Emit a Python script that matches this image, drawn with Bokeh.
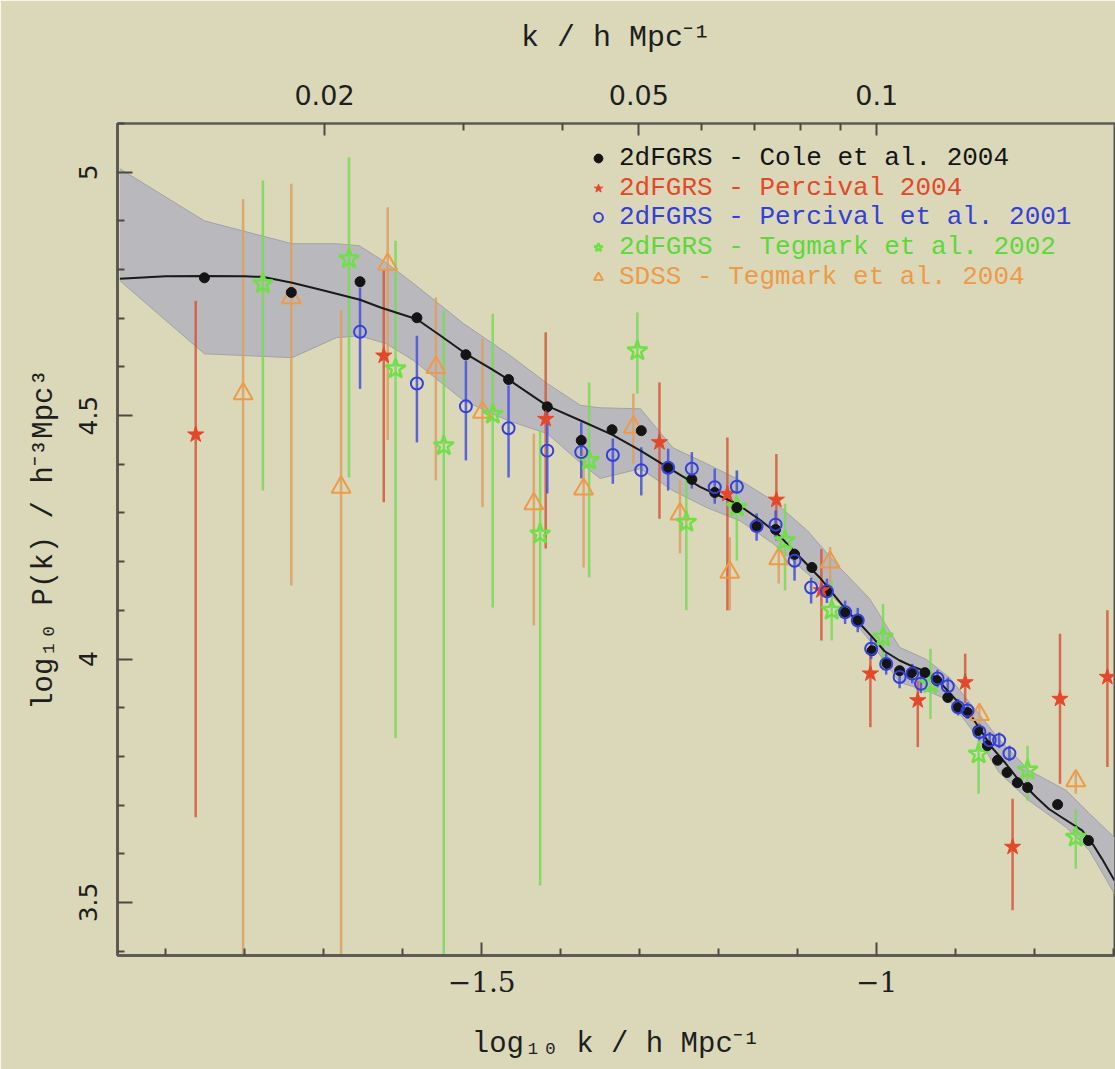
import numpy as np
from bokeh.plotting import figure
from bokeh.models import (LinearAxis, FixedTicker, Range1d, Legend, LegendItem)
from bokeh.embed import file_html
from bokeh.resources import INLINE

# ---------------- data (log10 k [h/Mpc], log10 P(k)) ----------------
# 2dFGRS - Cole et al. 2004 (black dots)
cole_lk = [-1.851, -1.741, -1.654, -1.582, -1.520, -1.466, -1.417, -1.374, -1.335, -1.298,
           -1.264, -1.234, -1.205, -1.177, -1.152, -1.128, -1.104, -1.082, -1.063, -1.040,
           -1.024, -1.006, -0.987, -0.971, -0.956, -0.939, -0.924, -0.910, -0.898, -0.885,
           -0.872, -0.860, -0.847, -0.835, -0.822, -0.809, -0.771, -0.732]
cole_p = [4.783, 4.753, 4.775, 4.701, 4.625, 4.574, 4.518, 4.449, 4.471, 4.469,
          4.393, 4.369, 4.342, 4.311, 4.272, 4.266, 4.215, 4.188, 4.139, 4.095,
          4.079, 4.017, 3.991, 3.976, 3.972, 3.972, 3.956, 3.921, 3.900, 3.890,
          3.853, 3.822, 3.792, 3.767, 3.746, 3.736, 3.701, 3.627]

# best-fit curve (black line)
curve_lk = [-1.958, -1.900, -1.851, -1.800, -1.778, -1.740, -1.700, -1.654, -1.628, -1.582,
            -1.552, -1.520, -1.489, -1.466, -1.438, -1.417, -1.375, -1.335, -1.299, -1.264,
            -1.223, -1.177, -1.148, -1.126, -1.097, -1.072, -1.038, -1.021, -1.005, -0.990,
            -0.971, -0.952, -0.937, -0.923, -0.908, -0.895, -0.879, -0.854, -0.838, -0.823,
            -0.798, -0.782, -0.765, -0.740, -0.725, -0.715, -0.699]
curve_p = [4.781, 4.786, 4.787, 4.786, 4.785, 4.773, 4.757, 4.738, 4.722, 4.698,
           4.664, 4.627, 4.597, 4.574, 4.543, 4.520, 4.490, 4.461, 4.428, 4.393,
           4.353, 4.319, 4.286, 4.258, 4.209, 4.167, 4.100, 4.072, 4.044, 4.016,
           3.997, 3.983, 3.974, 3.958, 3.931, 3.908, 3.880, 3.818, 3.788, 3.757,
           3.716, 3.692, 3.674, 3.648, 3.616, 3.590, 3.545]

# grey uncertainty band
band_lk = [-1.958, -1.851, -1.740, -1.684, -1.655, -1.621, -1.586, -1.523, -1.467, -1.417,
           -1.375, -1.350, -1.299, -1.258, -1.215, -1.173, -1.131, -1.088, -1.047, -1.009,
           -0.971, -0.937, -0.908, -0.874, -0.845, -0.807, -0.760, -0.731, -0.699]
band_hi = [5.007, 4.900, 4.853, 4.853, 4.849, 4.814, 4.771, 4.689, 4.627, 4.566,
           4.521, 4.516, 4.514, 4.434, 4.401, 4.367, 4.325, 4.264, 4.188, 4.124,
           4.024, 3.999, 3.962, 3.894, 3.835, 3.771, 3.730, 3.683, 3.633]
band_lo = [4.777, 4.627, 4.619, 4.660, 4.664, 4.648, 4.613, 4.531, 4.490, 4.463,
           4.403, 4.371, 4.391, 4.346, 4.311, 4.284, 4.237, 4.176, 4.114, 4.038,
           3.952, 3.935, 3.915, 3.843, 3.767, 3.709, 3.654, 3.607, 3.518]

# 2dFGRS - Percival 2004 (red stars)
p04_lk = [-1.862, -1.624, -1.419, -1.275, -1.189, -1.127, -1.070, -1.008, -0.948, -0.888,
          -0.828, -0.768, -0.708]
p04_p = [4.461, 4.623, 4.493, 4.445, 4.339, 4.327, 4.141, 3.970, 3.915, 3.952,
         3.614, 3.918, 3.963]
p04_lo = [3.675, 4.322, 4.227, 4.288, 4.100, 4.243, 4.038, 3.860, 3.819, 3.909,
          3.484, 3.744, 3.778]
p04_hi = [4.736, 4.800, 4.671, 4.568, 4.455, 4.421, 4.226, 4.028, 3.955, 4.011,
          3.713, 4.052, 4.100]

# 2dFGRS - Percival et al. 2001 (blue open circles)
p01_lk = [-1.654, -1.582, -1.520, -1.466, -1.417, -1.374, -1.334, -1.298, -1.264, -1.234,
          -1.205, -1.177, -1.152, -1.128, -1.104, -1.083, -1.063, -1.040, -1.024, -1.007,
          -0.988, -0.971, -0.955, -0.944, -0.923, -0.910, -0.897, -0.885, -0.870, -0.857,
          -0.845, -0.832]
p01_p = [4.672, 4.566, 4.519, 4.474, 4.428, 4.425, 4.419, 4.388, 4.393, 4.391,
         4.353, 4.354, 4.273, 4.276, 4.202, 4.147, 4.139, 4.096, 4.079, 4.021,
         3.990, 3.963, 3.970, 3.949, 3.960, 3.944, 3.901, 3.894, 3.850, 3.833,
         3.833, 3.806]
p01_lo = [4.555, 4.445, 4.408, 4.373, 4.340, 4.371, 4.360, 4.336, 4.346, 4.350,
          4.319, 4.340, 4.243, 4.250, 4.161, 4.114, 4.115, 4.072, 4.055, 4.000,
          3.968, 3.940, 3.950, 3.930, 3.942, 3.926, 3.884, 3.877, 3.833, 3.816,
          3.817, 3.790]
p01_hi = [4.763, 4.664, 4.613, 4.562, 4.524, 4.486, 4.453, 4.435, 4.432, 4.425,
          4.391, 4.387, 4.299, 4.305, 4.227, 4.167, 4.165, 4.120, 4.105, 4.045,
          4.012, 3.985, 3.990, 3.968, 3.978, 3.962, 3.918, 3.911, 3.867, 3.850,
          3.849, 3.822]

# 2dFGRS - Tegmark et al. 2002 (green open stars)
t02_lk = [-1.777, -1.668, -1.609, -1.548, -1.486, -1.426, -1.364, -1.303, -1.241, -1.177,
          -1.116, -1.057, -0.992, -0.932, -0.871, -0.809, -0.748]
t02_p = [4.771, 4.822, 4.596, 4.438, 4.503, 4.257, 4.408, 4.633, 4.281, 4.312,
         4.243, 4.100, 4.045, 3.949, 3.805, 3.772, 3.634]
t02_lo = [4.346, 4.373, 3.837, 3.300, 4.106, 3.535, 4.168, 4.545, 4.100, 4.202,
          4.141, 4.038, 3.976, 3.877, 3.723, 3.709, 3.569]
t02_hi = [4.983, 5.030, 4.859, 4.716, 4.709, 4.469, 4.568, 4.712, 4.380, 4.387,
          4.319, 4.160, 4.113, 4.021, 3.840, 3.822, 3.692]

# SDSS - Tegmark et al. 2004 (orange open triangles)
s04_lk = [-1.802, -1.741, -1.678, -1.619, -1.558, -1.499, -1.434, -1.371, -1.308, -1.249,
          -1.186, -1.124, -1.059, -0.870, -0.748]
s04_p = [4.545, 4.742, 4.353, 4.811, 4.599, 4.507, 4.319, 4.349, 4.476, 4.298,
         4.178, 4.206, 4.199, 3.886, 3.750]
s04_lo = [3.300, 4.151, 3.300, 4.450, 4.367, 4.312, 4.069, 4.188, 4.401, 4.217,
          4.100, 4.155, 4.147, 3.865, 3.723]
s04_hi = [4.945, 4.976, 4.716, 4.928, 4.743, 4.658, 4.463, 4.428, 4.545, 4.367,
          4.250, 4.227, 4.230, 3.905, 3.771]

# axis ticks
x_major = [-1.5, -1.0]
x_minor = [-1.9, -1.8, -1.7, -1.6, -1.4, -1.3, -1.2, -1.1, -0.9, -0.8, -0.7]
y_major = [3.5, 4.0, 4.5, 5.0]
y_minor = [3.4, 3.6, 3.7, 3.8, 3.9, 4.1, 4.2, 4.3, 4.4, 4.6, 4.7, 4.8, 4.9, 5.1]
k_major = [0.02, 0.05, 0.1]
k_minor = [0.03, 0.04, 0.06, 0.07, 0.08, 0.09]

legend_labels = ["2dFGRS - Cole et al. 2004", "2dFGRS - Percival 2004",
                 "2dFGRS - Percival et al. 2001", "2dFGRS - Tegmark et al. 2002",
                 "SDSS - Tegmark et al. 2004"]

# ---------------- styling ----------------
BG = "#dad8b8"
C_BLACK = "#141414"
C_RED = "#e3482a"
C_BLUE = "#3340d8"
C_GREEN = "#6fe046"
C_ORANGE = "#ee9a48"

p = figure(width=1115, height=1069, output_backend="svg", toolbar_location=None,
           x_range=Range1d(-1.961, -0.699), y_range=Range1d(3.391, 5.10),
           x_axis_type=None, y_axis_type=None,
           min_border_left=117, min_border_right=1, min_border_top=123, min_border_bottom=114)
p.background_fill_color = BG
p.border_fill_color = BG
p.outline_line_color = "#555550"
p.outline_line_width = 2


def style_axis(ax, major_in, minor_in):
    ax.axis_line_color = "#5c5c55"
    ax.axis_line_width = 3
    ax.major_tick_in = major_in
    ax.major_tick_out = 0
    ax.minor_tick_in = minor_in
    ax.minor_tick_out = 0
    ax.major_tick_line_color = "#4a4a45"
    ax.minor_tick_line_color = "#4a4a45"
    ax.major_tick_line_width = 2
    ax.minor_tick_line_width = 2
    ax.major_label_text_color = "#1e1e1e"
    ax.axis_label_text_color = "#1e1e1e"
    ax.axis_label_text_font_style = "normal"


xb = LinearAxis(ticker=FixedTicker(ticks=x_major, minor_ticks=x_minor),
                axis_label="log\u2081\u2080 k / h Mpc\u207b\u00b9")
style_axis(xb, 13, 7)
xb.major_label_overrides = {t: ("\u2212" + ("%g" % abs(t))) for t in x_major}
xb.major_label_text_font = "DejaVu Serif"
xb.major_label_text_font_size = "28px"
xb.major_label_standoff = 15
xb.axis_label_text_font = "Liberation Mono"
xb.axis_label_text_font_size = "29px"
xb.axis_label_standoff = 33
p.add_layout(xb, "below")

yl = LinearAxis(ticker=FixedTicker(ticks=y_major, minor_ticks=y_minor),
                axis_label="log\u2081\u2080 P(k) / h\u207b\u00b3Mpc\u00b3")
style_axis(yl, 15, 7)
yl.major_label_overrides = {t: ("%g" % t) for t in y_major}
yl.major_label_orientation = "vertical"
yl.major_label_text_font = "DejaVu Sans"
yl.major_label_text_font_size = "25px"
yl.major_label_standoff = 20
yl.axis_label_text_font = "Liberation Mono"
yl.axis_label_text_font_size = "29px"
yl.axis_label_standoff = 16
p.add_layout(yl, "left")

k_major_lk = [float(np.log10(k)) for k in k_major]
k_minor_lk = [float(np.log10(k)) for k in k_minor]
xt = LinearAxis(ticker=FixedTicker(ticks=k_major_lk, minor_ticks=k_minor_lk),
                axis_label="k / h Mpc\u207b\u00b9")
style_axis(xt, 12, 7)
xt.axis_line_width = 2
xt.major_label_overrides = {lk: ("%g" % k) for lk, k in zip(k_major_lk, k_major)}
xt.major_label_text_font = "DejaVu Sans"
xt.major_label_text_font_size = "27px"
xt.major_label_standoff = 19
xt.axis_label_text_font = "Liberation Mono"
xt.axis_label_text_font_size = "30px"
xt.axis_label_standoff = 27
p.add_layout(xt, "above")

# band + curve
p.varea(x=band_lk, y1=band_lo, y2=band_hi, fill_color="#b9b9bd", fill_alpha=1.0)
p.line(band_lk, band_hi, line_color="#a2a2a6", line_width=1)
p.line(band_lk, band_lo, line_color="#a2a2a6", line_width=1)

# error bars
p.segment(x0=s04_lk, y0=s04_lo, x1=s04_lk, y1=s04_hi, line_color="#dca064", line_width=2.5, line_alpha=0.85)
p.segment(x0=t02_lk, y0=t02_lo, x1=t02_lk, y1=t02_hi, line_color="#7ad85a", line_width=2.5, line_alpha=0.85)
p.segment(x0=p04_lk, y0=p04_lo, x1=p04_lk, y1=p04_hi, line_color="#d2583c", line_width=2.5, line_alpha=0.85)
p.segment(x0=p01_lk, y0=p01_lo, x1=p01_lk, y1=p01_hi, line_color="#4450dc", line_width=2.5, line_alpha=0.85)

p.line(curve_lk, curve_p, line_color="#1a1a1a", line_width=2, line_join="round")

# markers
r_s04 = p.scatter(s04_lk, s04_p, marker="triangle", size=19, fill_alpha=0,
                  line_color=C_ORANGE, line_width=2)
r_t02 = p.scatter(t02_lk, t02_p, marker="star", size=21, fill_alpha=0,
                  line_color=C_GREEN, line_width=2.5)
r_cole = p.scatter(cole_lk, cole_p, marker="circle", size=10, fill_color=C_BLACK,
                   line_color=C_BLACK)
r_p04 = p.scatter(p04_lk, p04_p, marker="star", size=17, fill_color=C_RED,
                  line_color=C_RED)
r_p01 = p.scatter(p01_lk, p01_p, marker="circle", size=12, fill_alpha=0,
                  line_color=C_BLUE, line_width=2)

# legend (one per entry so each label keeps its own colour)
renderers = [r_cole, r_p04, r_p01, r_t02, r_s04]
colors = [C_BLACK, C_RED, C_BLUE, "#5cd838", C_ORANGE]
row_bottom = [782, 752, 723, 693, 663]
for lab, rend, col, yb in zip(legend_labels, renderers, colors, row_bottom):
    lg = Legend(items=[LegendItem(label=lab, renderers=[rend])], location=(470, yb),
                label_text_color=col, label_text_font="Liberation Mono",
                label_text_font_size="26px", glyph_width=22, glyph_height=22,
                label_standoff=10, padding=0, margin=0, spacing=0,
                background_fill_alpha=0, border_line_alpha=0, label_height=22)
    p.add_layout(lg, "center")

open("out.html", "w").write(file_html(p, INLINE))
